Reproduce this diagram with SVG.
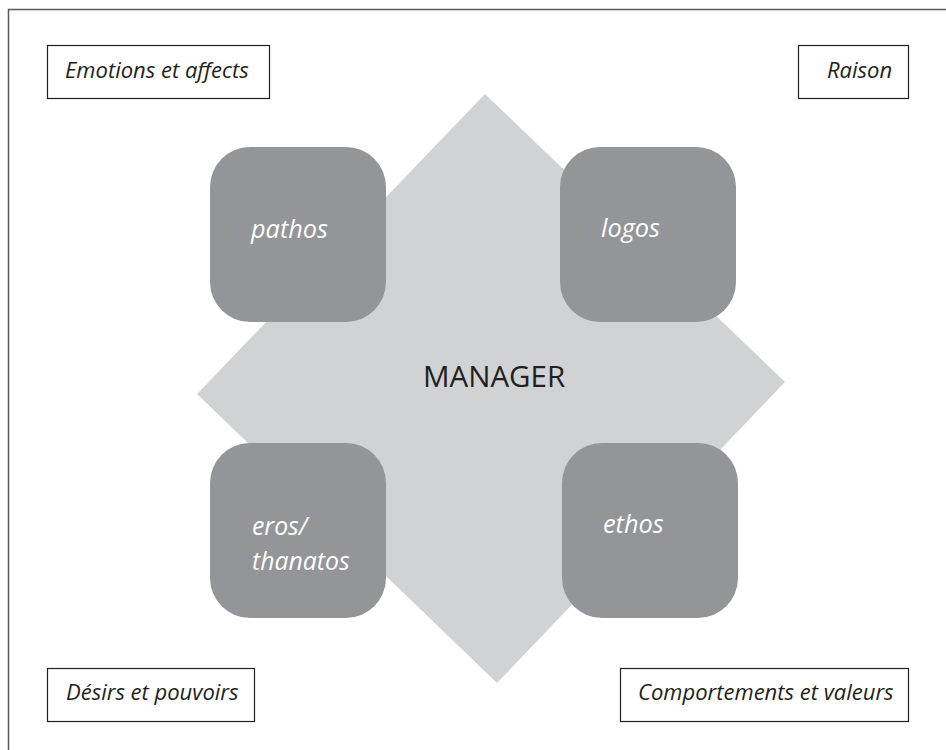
<svg xmlns="http://www.w3.org/2000/svg" width="946" height="750" viewBox="0 0 946 750">
  <style>
    .frame { fill: none; stroke: #58595b; stroke-width: 1.5; }
    .label-box { fill: #ffffff; stroke: #231f20; stroke-width: 1.2; }
    .label { font-family: "Open Sans", "Liberation Sans", sans-serif; font-style: italic; font-size: 22px; fill: #231f20; }
    .node { fill: #939598; }
    .node-text { font-family: "Open Sans", "Liberation Sans", sans-serif; font-style: italic; font-size: 25.3px; fill: #ffffff; }
    .node-text-2 { font-family: "Open Sans", "Liberation Sans", sans-serif; font-style: italic; font-size: 24.8px; fill: #ffffff; }
    .center { fill: #d1d2d4; }
    .center-text { font-family: "Open Sans", "Liberation Sans", sans-serif; font-size: 29.5px; fill: #231f20; }
  </style>
  <rect x="0" y="0" width="946" height="750" fill="#ffffff"/>
  <rect class="frame" x="8.5" y="9.5" width="960" height="760"/>

  <g id="manager">
    <polygon class="center" points="485,94 785,382 497,683 197,394"/>
    <text class="center-text" x="423" y="387">MANAGER</text>
  </g>

  <g id="connectors"></g>

  <g id="pathos">
    <rect class="node" x="210" y="147" width="176" height="175" rx="40" ry="40"/>
    <text class="node-text" x="251" y="238">pathos</text>
  </g>
  <g id="logos">
    <rect class="node" x="560" y="147" width="176" height="175" rx="40" ry="40"/>
    <text class="node-text" x="601" y="237">logos</text>
  </g>
  <g id="eros-thanatos">
    <rect class="node" x="210" y="443" width="176" height="175" rx="40" ry="40"/>
    <text class="node-text-2"><tspan x="252" y="535">eros/</tspan><tspan x="252" y="569.5">thanatos</tspan></text>
  </g>
  <g id="ethos">
    <rect class="node" x="562" y="443" width="176" height="175" rx="40" ry="40"/>
    <text class="node-text" x="603" y="533">ethos</text>
  </g>

  <g id="emotions">
    <rect class="label-box" x="47.5" y="45.5" width="222" height="53"/>
    <text class="label" x="65" y="78">Emotions et affects</text>
  </g>
  <g id="raison">
    <rect class="label-box" x="798.5" y="45.5" width="110" height="53"/>
    <text class="label" x="827" y="78">Raison</text>
  </g>
  <g id="desirs">
    <rect class="label-box" x="47.5" y="668.5" width="207" height="53"/>
    <text class="label" x="66" y="700">Désirs et pouvoirs</text>
  </g>
  <g id="comportements">
    <rect class="label-box" x="620.5" y="668.5" width="288" height="53"/>
    <text class="label" x="638" y="700">Comportements et valeurs</text>
  </g>
</svg>
